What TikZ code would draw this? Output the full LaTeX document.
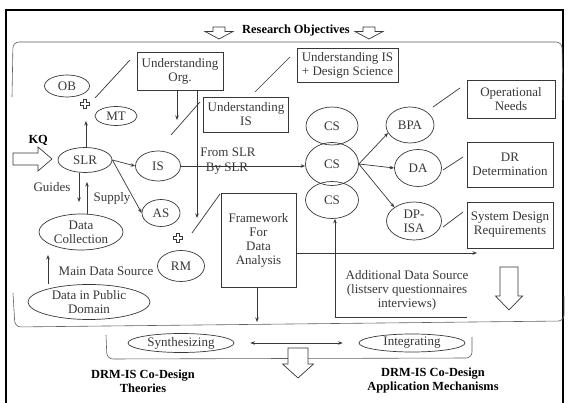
\documentclass[tikz,border=0pt]{standalone}
\usepackage{fontspec}
\setmainfont{Liberation Serif}
\usetikzlibrary{shapes.geometric,arrows.meta}

% hollow block arrow pointing down: centre x, top y, head-start y, tip y, shaft half width, head half width
\newcommand\blockdown[6]{%
  \draw[blk] (#1-#5,#2) -- (#1+#5,#2) -- (#1+#5,#3) -- (#1+#6,#3) -- (#1,#4)
    -- (#1-#6,#3) -- (#1-#5,#3) -- cycle;}
% small hollow plus sign
\newcommand\hollowplus[2]{%
  \draw[blk, line width=0.6pt] (#1-1.6,#2-4.5) -- (#1+1.6,#2-4.5) -- (#1+1.6,#2-1.6) -- (#1+4.5,#2-1.6)
    -- (#1+4.5,#2+1.6) -- (#1+1.6,#2+1.6) -- (#1+1.6,#2+4.5) -- (#1-1.6,#2+4.5) -- (#1-1.6,#2+1.6)
    -- (#1-4.5,#2+1.6) -- (#1-4.5,#2-1.6) -- (#1-1.6,#2-1.6) -- cycle;}

\definecolor{ink}{gray}{0.22}

\tikzset{
  base/.style={text=ink, font=\fontsize{13}{14}\selectfont, align=center},
  ell/.style={base, ellipse, draw=ink, line width=0.7pt, inner sep=0pt},
  bx/.style={base, rectangle, draw=ink, line width=0.7pt, inner sep=1pt},
  lbl/.style={base},
  ttl/.style={text=black, font=\bfseries\fontsize{12.4}{14}\selectfont, align=center},
  ln/.style={draw=ink, line width=0.7pt},
  arr/.style={ln, -{Stealth[length=4.5pt,width=3.5pt]}},
  darr/.style={ln, {Stealth[length=4.5pt,width=3.5pt]}-{Stealth[length=4.5pt,width=3.5pt]}},
  blk/.style={draw=ink, line width=0.7pt, fill=white},
  brc/.style={draw=ink!80, line width=0.6pt, rounded corners=6pt},
}

\begin{document}
\begin{tikzpicture}[x=1pt,y=-1pt]
\useasboundingbox (0,0) rectangle (568,403);
\fill[white] (0,0) rectangle (568,403);

% outer frame
\draw[black, line width=2.2pt] (6,404) -- (6,10) -- (563,10) -- (563,404);

% heading
\node[ttl] (ro) at (296,31) {Research Objectives};
\blockdown{219}{27}{31.5}{39}{6}{14}
\blockdown{369}{27}{31.5}{39}{6}{14}

% large brackets
\draw[brc] (12,97) -- (13,42) -- (562,42) -- (563,100);
\draw[brc] (13,293) -- (15,327) -- (564,321) -- (564,296);
\draw[brc] (106,335) -- (107,359) -- (472,358) -- (472,337);

% KQ input
\node[ttl, anchor=base west] (kq) at (25,144) {KQ};
\draw[blk] (13,153) -- (38,153) -- (38,147) -- (52,159) -- (38,171) -- (38,165) -- (13,165) -- cycle;

% ellipses
\node[ell, minimum width=54pt, minimum height=25pt] (slr) at (85,160) {SLR};
\node[ell, minimum width=45pt, minimum height=22pt] (ob) at (67,86) {OB};
\node[ell, minimum width=42pt, minimum height=19pt] (mt) at (116,116) {MT};
\node[ell, minimum width=45pt, minimum height=30pt] (is) at (158,166) {IS};
\node[ell, minimum width=38pt, minimum height=27pt] (as) at (161,213) {AS};
\node[ell, minimum width=47pt, minimum height=31pt] (rm) at (181,266) {RM};
\node[ell, minimum width=84pt, minimum height=36pt] (dc) at (81,232) {Data\\Collection};
\node[ell, minimum width=122pt, minimum height=35pt] (dpd) at (89,302) {Data in Public\\Domain};
\node[ell, minimum width=52pt, minimum height=38pt] (csa) at (332,126) {CS};
\node[ell, minimum width=53pt, minimum height=43pt] (csb) at (332,164) {CS};
\node[ell, minimum width=53pt, minimum height=37pt] (csc) at (332,200) {CS};
\node[ell, minimum width=48pt, minimum height=36pt] (bpa) at (410,125) {BPA};
\node[ell, minimum width=47pt, minimum height=37pt] (da) at (418,168) {DA};
\node[ell, minimum width=55pt, minimum height=38pt] (dp) at (414,221) {DP-\\ISA};
\node[ell, minimum width=106pt, minimum height=19pt] (syn) at (181,343) {Synthesizing};
\node[ell, minimum width=106pt, minimum height=18pt] (int) at (412,343) {Integrating};

% boxes
\node[bx, minimum width=86pt, minimum height=38pt] (uorg) at (180,71) {Understanding\\Org.};
\node[bx, minimum width=85pt, minimum height=35pt] (uis) at (246,114.5) {Understanding\\IS};
\node[bx, minimum width=101pt, minimum height=34pt] (uds) at (347.5,65) {Understanding IS\\+ Design Science};
\node[bx, minimum width=88pt, minimum height=38pt] (opn) at (511,99) {Operational\\Needs};
\node[bx, minimum width=86pt, minimum height=45pt] (drd) at (510,164.5) {DR\\Determination};
\node[bx, minimum width=86pt, minimum height=46pt] (sdr) at (510,225) {System Design\\Requirements};
\node[bx, minimum width=75pt, minimum height=94pt] (fw) at (258.5,240) {Framework\\For\\Data\\Analysis};

% plus signs
\hollowplus{85}{104}
\hollowplus{178}{238}
\coordinate (p1) at (85,104);
\coordinate (p2) at (178,238);

% labels
\node[lbl] (fromslr) at (228,152) {From SLR};
\node[lbl] (byslr) at (227,169) {By SLR};
\node[lbl] (guides) at (52,187) {Guides};
\node[lbl] (supply) at (112,198) {Supply};
\node[lbl] (mds) at (106,271) {Main Data Source};
\node[lbl] (ads) at (407,290) {Additional Data Source\\(listserv questionnaires\\interviews)};

% bottom titles
\node[ttl] (thy) at (143,381) {DRM-IS Co-Design\\Theories};
\node[ttl] (app) at (433,381) {DRM-IS Co-Design\\Application Mechanisms};

% block arrows
\blockdown{298}{348}{364}{378}{10}{15.5}
\blockdown{509}{267}{296}{310}{9}{13.5}

% connector end points
\coordinate (slrup) at (86,121);
\coordinate (orgdn) at (177,120);
\coordinate (orglong) at (197,218);
\coordinate (gd) at (79,202);
\coordinate (sp) at (87,182);
\coordinate (md) at (48,255);
\coordinate (fwr) at (477,253);
\coordinate (fwd) at (257,322);
\coordinate (adsend) at (467,317);
\coordinate (adscorner) at (335,317);

% connectors
\draw[arr] (slr.north -| slrup) -- (slrup);
\draw[arr] (uorg.south -| orgdn) -- (orgdn);
\draw[arr] (uorg.south -| orglong) -- (orglong);
\draw[arr] (slr.south -| gd) -- (gd);
\draw[arr] (dc.north -| sp) -- (sp);
\draw[arr] (dpd.north -| md) -- (md);
\draw[arr] (slr.east) -- (is.west);
\draw[arr] (slr.east) -- (as.west);
\draw[arr] (is.east) -- (is.east -| csb.west);
\draw[arr] (csb.east) -- (bpa.200);
\draw[arr] (csb.east) -- (da.west);
\draw[arr] (csb.east) -- (dp.north west);
\draw[arr] (fw.east |- fwr) -- (fwr);
\draw[arr] (fw.south -| fwd) -- (fwd);
\draw[ln] (adsend) -- (adscorner);
\draw[arr] (adscorner) -- (csc.south -| adscorner);
\draw[darr, shorten <=16pt, shorten >=16pt] (syn.east) -- (int.west);

% association strokes
\draw[ln] (95,98) -- (130,60);
\draw[ln] (171,135) -- (200,102);
\draw[ln] (255,92) -- (290,57);
\draw[ln] (192,233) -- (220,194);
\draw[ln] (433,107) -- (460,88);
\draw[ln] (443,170) -- (463,157);
\draw[ln] (443,227) -- (463,212);
\end{tikzpicture}
\end{document}
